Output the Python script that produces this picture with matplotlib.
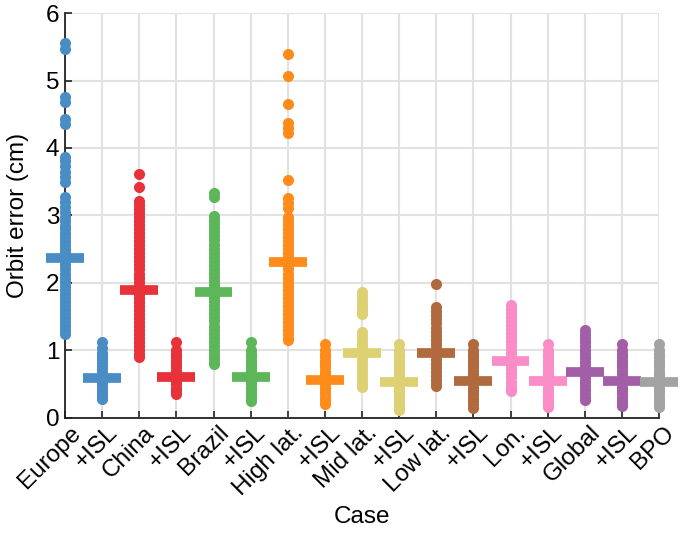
import numpy as np
import matplotlib
matplotlib.use("Agg")
import matplotlib.pyplot as plt
from matplotlib.transforms import ScaledTranslation

# ---------------------------------------------------------------------------
# Data: orbit error samples (cm) per case
# ---------------------------------------------------------------------------
CASES = ["Europe", "+ISL", "China", "+ISL", "Brazil", "+ISL", "High lat.", "+ISL",
         "Mid lat.", "+ISL", "Low lat.", "+ISL", "Lon.", "+ISL", "Global", "+ISL", "BPO"]

europe = [5.55, 5.47, 4.76, 4.68, 4.43, 4.36, 3.87, 3.80, 3.73, 3.65, 3.57, 3.50,
          3.27, 3.20, 3.12, 3.05, 2.98, 2.92, 2.85, 2.80, 2.74, 2.68, 2.62, 2.56,
          2.50, 2.44, 2.38, 2.32, 2.26, 2.20, 2.14, 2.08, 2.02, 1.96, 1.90, 1.84,
          1.78, 1.72, 1.66, 1.60, 1.54, 1.48, 1.42, 1.36, 1.30, 1.25]
europe_isl = [1.12, 1.03, 0.97, 0.92, 0.87, 0.82, 0.77, 0.72, 0.67, 0.62, 0.57,
              0.52, 0.47, 0.42, 0.37, 0.32, 0.28]
china = [3.62, 3.42, 3.22, 3.16, 3.10, 3.04, 2.98, 2.92, 2.86, 2.80, 2.74, 2.68,
         2.62, 2.56, 2.50, 2.44, 2.38, 2.32, 2.26, 2.20, 2.14, 2.08, 2.02, 1.96,
         1.90, 1.84, 1.78, 1.72, 1.66, 1.60, 1.54, 1.48, 1.42, 1.36, 1.30, 1.24,
         1.18, 1.12, 1.06, 1.00, 0.95, 0.91]
china_isl = [1.12, 1.00, 0.95, 0.90, 0.85, 0.80, 0.75, 0.70, 0.65, 0.60, 0.55,
             0.50, 0.45, 0.40, 0.35]
brazil = [3.34, 3.27, 2.99, 2.93, 2.87, 2.81, 2.75, 2.69, 2.63, 2.57, 2.51, 2.45,
          2.39, 2.33, 2.27, 2.21, 2.15, 2.09, 2.03, 1.97, 1.91, 1.85, 1.79, 1.73,
          1.67, 1.61, 1.55, 1.49, 1.43, 1.37, 1.31, 1.25, 1.19, 1.13, 1.07, 1.01,
          0.95, 0.89, 0.84, 0.80]
brazil_isl = [1.12, 1.00, 0.95, 0.90, 0.85, 0.80, 0.75, 0.70, 0.65, 0.60, 0.55,
              0.50, 0.45, 0.40, 0.35, 0.30, 0.25]
high_lat = [5.39, 5.07, 4.65, 4.37, 4.30, 4.22, 3.53, 3.26, 3.18, 3.11, 2.98, 2.92,
            2.86, 2.80, 2.74, 2.68, 2.62, 2.56, 2.50, 2.44, 2.38, 2.32, 2.26, 2.20,
            2.14, 2.08, 2.02, 1.96, 1.90, 1.84, 1.78, 1.72, 1.66, 1.60, 1.54, 1.48,
            1.42, 1.36, 1.30, 1.24, 1.19, 1.15]
high_lat_isl = [1.10, 1.00, 0.95, 0.90, 0.85, 0.80, 0.75, 0.70, 0.65, 0.60, 0.55,
                0.50, 0.45, 0.40, 0.35, 0.30, 0.25, 0.21]
mid_lat = [1.87, 1.81, 1.75, 1.69, 1.63, 1.58, 1.54, 1.27, 1.22, 1.16, 1.10, 1.04,
           0.98, 0.92, 0.86, 0.80, 0.74, 0.68, 0.62, 0.56, 0.51, 0.46]
mid_lat_isl = [1.09, 1.00, 0.95, 0.90, 0.85, 0.80, 0.75, 0.70, 0.65, 0.60, 0.55,
               0.50, 0.45, 0.40, 0.35, 0.30, 0.25, 0.20, 0.15, 0.12]
low_lat = [1.98, 1.64, 1.58, 1.52, 1.46, 1.40, 1.34, 1.28, 1.22, 1.16, 1.10, 1.04,
           0.98, 0.92, 0.86, 0.80, 0.74, 0.68, 0.62, 0.56, 0.51, 0.47]
low_lat_isl = [1.10, 1.00, 0.95, 0.90, 0.85, 0.80, 0.75, 0.70, 0.65, 0.60, 0.55,
               0.50, 0.45, 0.40, 0.35, 0.30, 0.25, 0.20, 0.15]
lon = [1.68, 1.62, 1.56, 1.50, 1.44, 1.38, 1.32, 1.26, 1.20, 1.14, 1.08, 1.02,
       0.96, 0.90, 0.84, 0.78, 0.72, 0.66, 0.60, 0.54, 0.48, 0.43, 0.40]
lon_isl = [1.10, 1.00, 0.95, 0.90, 0.85, 0.80, 0.75, 0.70, 0.65, 0.60, 0.55,
           0.50, 0.45, 0.40, 0.35, 0.30, 0.25, 0.20, 0.16]
global_ = [1.31, 1.25, 1.19, 1.13, 1.07, 1.01, 0.95, 0.89, 0.83, 0.77, 0.71, 0.65,
           0.59, 0.53, 0.47, 0.41, 0.35, 0.30, 0.27]
global_isl = [1.10, 1.00, 0.95, 0.90, 0.85, 0.80, 0.75, 0.70, 0.65, 0.60, 0.55,
              0.50, 0.45, 0.40, 0.35, 0.30, 0.25, 0.20, 0.18]
bpo = [1.09, 1.00, 0.95, 0.90, 0.85, 0.80, 0.75, 0.70, 0.65, 0.60, 0.55,
       0.50, 0.45, 0.40, 0.35, 0.30, 0.25, 0.20, 0.16]

SAMPLES = [europe, europe_isl, china, china_isl, brazil, brazil_isl, high_lat,
           high_lat_isl, mid_lat, mid_lat_isl, low_lat, low_lat_isl, lon, lon_isl,
           global_, global_isl, bpo]

# mean orbit error per case (the horizontal bars)
MEANS = [2.37, 0.59, 1.90, 0.61, 1.87, 0.61, 2.31, 0.56, 0.96, 0.53, 0.96, 0.55,
         0.84, 0.55, 0.68, 0.55, 0.53]

# ---------------------------------------------------------------------------
# Style
# ---------------------------------------------------------------------------
BLUE, RED, GREEN, ORANGE = "#4a8cc4", "#e8323a", "#5db65a", "#ff8c1a"
YELLOW, BROWN, PINK, PURPLE, GREY = "#ddd173", "#b06a3d", "#fa8dc8", "#a35ea8", "#a3a3a3"
COLORS = [BLUE, BLUE, RED, RED, GREEN, GREEN, ORANGE, ORANGE, YELLOW, YELLOW,
          BROWN, BROWN, PINK, PINK, PURPLE, PURPLE, GREY]

plt.rcParams["font.family"] = ["Liberation Sans", "DejaVu Sans"]
FS = 17.5

fig = plt.figure(figsize=(6.85, 5.33), dpi=100)
ax = fig.add_axes([0.0949, 0.2158, 0.8672, 0.7598])

xs = np.arange(1, len(CASES) + 1)
for x, vals, m, c in zip(xs, SAMPLES, MEANS, COLORS):
    ax.plot(np.full(len(vals), x), vals, "o", ms=8, color=c, mec="none",
            zorder=3, clip_on=False)
    ax.hlines(m, x - 0.51, x + 0.51, color=c, lw=7, zorder=4, clip_on=False,
              capstyle="butt")

ax.set_xlim(1, 17)
ax.set_ylim(0, 6)
ax.set_xticks(xs)
ax.set_yticks(range(7))
ax.tick_params(axis="y", labelsize=FS)
ax.tick_params(direction="in", length=5, width=1.2, color="#222222", pad=4)
ax.set_xticklabels(CASES, rotation=45, ha="right", va="center",
                   rotation_mode="anchor", fontsize=FS)
# nudge rotated labels right/down like the original
shift = ScaledTranslation(12 / 100, -6 / 100, fig.dpi_scale_trans)
for lbl in ax.xaxis.get_majorticklabels():
    lbl.set_transform(lbl.get_transform() + shift)

ax.grid(True, color="#e2e2e2", lw=1.5)
ax.set_axisbelow(True)
for s in ("top", "right"):
    ax.spines[s].set_visible(False)
for s in ("left", "bottom"):
    ax.spines[s].set_color("#222222")
    ax.spines[s].set_linewidth(1.3)

ax.set_xlabel("Case", fontsize=FS, labelpad=4)
ax.set_ylabel("Orbit error (cm)", fontsize=FS, labelpad=12)

fig.savefig("out.png", dpi=100)
